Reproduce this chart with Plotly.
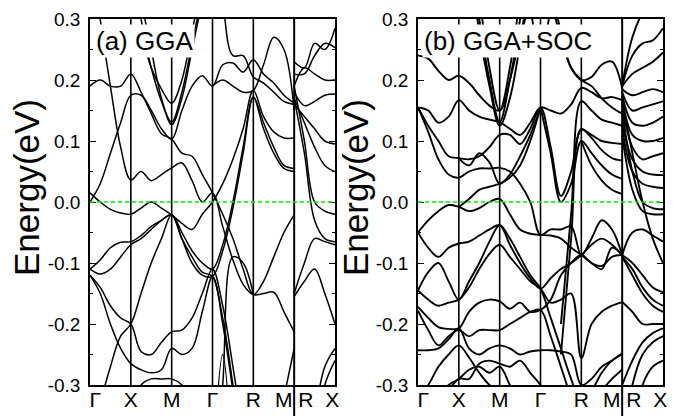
import plotly.graph_objects as go
from plotly.subplots import make_subplots

N = None

# k-path: Γ X M Γ R M | R X  (one unit per segment)
k_main = [0, 0.25, 0.5, 0.75, 1, 1.25, 1.5, 1.75, 2, 2.25, 2.5, 2.75,
          3, 3.25, 3.5, 3.75, 4, 4.25, 4.5, 4.75, 5]
k_rx = [5, 5.25, 5.5, 5.75, 6]

k_labels = ["Γ", "X", "M", "Γ", "R", "M R", "X"]
e_ticks = [-0.3, -0.2, -0.1, 0.0, 0.1, 0.2, 0.3]
e_tick_text = ["-0.3", "-0.2", "-0.1", "0.0", "0.1", "0.2", "0.3"]

# (a) GGA bands along Γ-X-M-Γ-R-M (eV)
gga_main = [
    [0.19, 0.20, 0.19, 0.19, 0.21, 0.18, 0.145, 0.112, 0.103, 0.08, 0.075, 0.045, 0.015, -0.02, -0.06, -0.11, -0.152, -0.13, -0.09, -0.05, -0.021],
    [0.45, 0.30, 0.19, 0.09, 0.036, 0.05, 0.035, 0.045, 0.056, 0.064, 0.035, 0.0, 0.015, -0.04, -0.095, -0.135, -0.152, -0.15, -0.148, -0.18, -0.213],
    [0.0, 0.03, 0.08, 0.13, 0.175, 0.175, 0.15, 0.12, 0.103, 0.15, 0.19, 0.207, 0.19, 0.225, 0.228, 0.213, 0.233, 0.21, 0.195, 0.175, 0.162],
    [0.015, 0.0, -0.012, -0.018, -0.02, -0.01, 0.0, -0.01, -0.021, -0.035, -0.045, -0.02, 0.0, 0.03, 0.07, 0.12, 0.183, 0.14, 0.115, 0.105, 0.105],
    [-0.11, -0.095, -0.075, -0.066, -0.065, -0.055, -0.04, -0.03, -0.021, -0.05, -0.08, -0.1, -0.11, -0.07, 0.0, 0.09, 0.172, 0.13, 0.09, 0.06, 0.055],
    [-0.11, -0.118, -0.11, -0.09, -0.07, -0.06, -0.045, -0.03, -0.021, -0.06, -0.1, -0.12, -0.122, -0.08, -0.01, 0.08, 0.172, 0.12, 0.08, 0.055, 0.05],
    [-0.12, -0.14, -0.17, -0.19, -0.2, -0.245, -0.25, -0.23, -0.213, -0.21, -0.19, -0.15, -0.11, -0.17, -0.27, -0.38, N, -0.5, -0.4, -0.32, -0.24],
    [-0.12, -0.15, -0.2, -0.24, -0.265, -0.275, -0.28, -0.275, -0.24, -0.25, -0.24, -0.18, -0.122, -0.19, -0.3, -0.42, N, N, N, N, N],
    [-0.4, -0.33, -0.27, -0.22, -0.2, -0.15, -0.1, -0.06, -0.021, -0.06, -0.09, -0.115, -0.122, -0.2, -0.31, N, N, N, N, N, N],
    [N, N, N, N, N, N, N, N, N, N, N, N, -0.5, -0.3, -0.09, -0.1, -0.152, N, N, N, N],
    [N, N, N, N, N, 0.28, 0.22, 0.185, 0.162, 0.2, 0.28, 0.36, N, N, N, N, N, N, N, N, N],
    [N, N, N, N, N, 0.3, 0.22, 0.165, 0.131, 0.18, 0.26, 0.34, N, N, N, N, N, N, N, N, N],
    [N, N, N, N, N, 0.33, 0.25, 0.17, 0.127, 0.17, 0.25, 0.33, N, N, N, N, N, N, N, N, N],
    [N, N, N, N, N, N, N, N, N, N, N, N, 0.45, 0.33, 0.24, 0.24, 0.205, 0.195, 0.18, 0.165, 0.16],
    [N, N, N, N, N, N, N, N, N, N, N, N, 0.19, 0.2, 0.19, 0.18, 0.183, 0.225, 0.27, 0.25, 0.15],
    [N, N, N, N, N, N, N, N, N, N, N, N, -0.45, -0.25, -0.45, N, N, N, N, N, N],
    [N, N, N, N, -0.35, -0.3, -0.29, -0.29, -0.29, -0.3, -0.33, N, N, N, N, N, N, N, N, N, N],
]

# (a) GGA bands along R-X
gga_rx = [
    [0.23, 0.22, 0.26, 0.25, 0.285],
    [0.21, 0.21, 0.24, 0.26, 0.253],
    [0.19, 0.22, 0.21, 0.2, 0.2],
    [0.18, 0.158, 0.165, 0.175, 0.177],
    [0.17, 0.13, 0.09, 0.06, 0.05],
    [0.16, 0.14, 0.12, 0.1, 0.095],
    [0.19, 0.1, 0.0, -0.015, -0.02],
    [0.17, 0.08, -0.03, -0.06, -0.065],
    [-0.155, -0.13, -0.11, -0.15, -0.2],
    [-0.15, -0.1, -0.06, -0.065, -0.07],
    [N, -0.5, -0.4, -0.3, -0.26],
    [N, -0.45, -0.35, -0.27, -0.24],
]

# (b) GGA+SOC bands along Γ-X-M-Γ-R-M
soc_main = [
    [0.24, 0.235, 0.215, 0.2, 0.207, 0.195, 0.175, 0.158, 0.15, 0.2, 0.27, 0.33, 0.4, 0.33, 0.27, 0.22, 0.2, 0.205, 0.225, 0.23, 0.187],
    [0.155, 0.15, 0.13, 0.14, 0.167, 0.15, 0.14, 0.135, 0.131, 0.12, 0.11, 0.13, 0.155, 0.15, 0.145, 0.16, 0.187, 0.18, 0.17, 0.172, 0.167],
    [0.155, 0.125, 0.1, 0.075, 0.072, 0.07, 0.075, 0.09, 0.11, 0.11, 0.095, 0.12, 0.155, 0.09, 0.01, 0.05, 0.12, 0.105, 0.085, 0.072, 0.068],
    [0.155, 0.115, 0.07, 0.045, 0.04, 0.05, 0.055, 0.055, 0.056, 0.05, 0.03, 0.0, -0.054, -0.045, -0.045, -0.04, -0.087, -0.06, -0.03, -0.045, -0.087],
    [-0.05, -0.03, -0.015, -0.005, -0.008, -0.015, -0.01, 0.0, 0.005, -0.02, -0.045, -0.052, -0.054, -0.055, -0.06, -0.075, -0.087, -0.1, -0.11, -0.075, -0.087],
    [-0.05, -0.075, -0.09, -0.075, -0.068, -0.065, -0.055, -0.045, -0.038, -0.07, -0.1, -0.125, -0.142, -0.125, -0.11, -0.1, -0.087, -0.07, -0.06, -0.07, -0.087],
    [-0.145, -0.115, -0.1, -0.13, -0.16, -0.13, -0.1, -0.065, -0.038, -0.06, -0.09, -0.12, -0.142, -0.19, -0.24, -0.29, -0.33, -0.31, -0.28, -0.26, -0.25],
    [-0.145, -0.16, -0.17, -0.165, -0.16, -0.14, -0.11, -0.085, -0.07, -0.09, -0.11, -0.13, -0.142, -0.165, -0.16, -0.15, -0.256, -0.2, -0.18, -0.17, -0.164],
    [-0.172, -0.19, -0.205, -0.208, -0.207, -0.18, -0.165, -0.16, -0.163, -0.175, -0.165, -0.18, -0.177, -0.16, -0.12, -0.1, -0.087, -0.1, -0.105, -0.09, -0.087],
    [-0.178, -0.21, -0.235, -0.22, -0.21, -0.22, -0.21, -0.21, -0.21, -0.2, -0.19, -0.18, -0.177, -0.22, -0.27, -0.32, -0.36, -0.34, -0.31, -0.29, -0.275],
    [-0.243, -0.243, -0.24, -0.225, -0.207, -0.24, -0.25, -0.24, -0.235, -0.24, -0.25, -0.245, -0.243, -0.243, -0.245, -0.25, -0.3, -0.29, -0.27, -0.26, -0.248],
    [-0.4, -0.35, -0.32, -0.3, -0.29, -0.275, -0.27, -0.28, -0.27, -0.3, -0.33, -0.35, -0.4, N, N, N, N, N, N, N, N],
    [-0.45, -0.4, -0.35, -0.31, -0.29, -0.29, -0.265, -0.26, -0.265, -0.27, -0.26, -0.28, -0.3, -0.33, N, N, N, N, N, N, N],
    [N, N, N, N, N, 0.5, 0.34, 0.22, 0.15, 0.22, 0.34, 0.5, N, N, N, N, N, N, N, N, N],
    [N, N, N, N, N, 0.45, 0.3, 0.2, 0.131, 0.2, 0.3, 0.45, N, N, N, N, N, N, N, N, N],
    [N, N, N, N, N, 0.4, 0.28, 0.19, 0.125, 0.17, 0.26, 0.38, N, N, N, N, N, N, N, N, N],
    [N, N, N, N, N, N, N, N, N, N, 0.45, 0.32, 0.24, 0.32, 0.45, N, N, N, N, N, N],
    [N, N, N, N, N, N, N, N, N, N, N, N, 0.45, 0.35, 0.28, 0.22, 0.2, 0.19, 0.17, 0.155, 0.145],
    [N, N, N, N, N, N, N, N, N, N, N, N, 0.155, 0.08, 0.0, 0.03, 0.1, 0.08, 0.06, 0.045, 0.038],
    [N, N, N, N, N, N, N, N, N, N, N, N, N, N, -0.2, -0.02, 0.165, 0.15, 0.135, 0.13, 0.125],
    [N, N, N, N, N, N, N, N, N, N, N, N, N, N, -0.25, -0.06, 0.118, 0.11, 0.1, 0.097, 0.095],
    [N, N, N, N, N, N, N, N, N, N, N, N, N, N, N, N, 0.1, 0.06, 0.035, 0.02, 0.013],
    [N, N, N, N, -0.008, 0.005, 0.02, 0.025, 0.03, 0.04, 0.06, 0.1, 0.155, N, N, N, N, N, N, N, N],
    [N, N, N, N, 0.072, 0.06, 0.08, 0.065, 0.03, 0.045, 0.075, 0.11, 0.155, N, N, N, N, N, N, N, N],
    [-0.32, -0.3, -0.27, -0.25, -0.235, -0.255, -0.28, -0.3, -0.31, N, N, N, N, N, N, N, N, N, N, N, N],
]

# (b) GGA+SOC bands along R-X
soc_rx = [
    [0.19, 0.27, 0.31, 0.33, 0.35],
    [0.19, 0.24, 0.26, 0.265, 0.285],
    [0.19, 0.21, 0.22, 0.23, 0.245],
    [0.185, 0.175, 0.18, 0.185, 0.18],
    [0.18, 0.15, 0.155, 0.16, 0.165],
    [0.175, 0.13, 0.125, 0.13, 0.14],
    [0.17, 0.11, 0.1, 0.1, 0.105],
    [0.165, 0.08, 0.0, -0.06, -0.1],
    [0.16, 0.09, 0.07, 0.075, 0.08],
    [0.13, 0.07, 0.05, 0.045, 0.044],
    [0.12, 0.05, 0.03, 0.025, 0.023],
    [0.15, 0.05, 0.0, -0.01, -0.012],
    [0.11, 0.02, -0.015, -0.02, -0.02],
    [-0.087, -0.05, -0.045, -0.055, -0.065],
    [-0.087, -0.1, -0.12, -0.14, -0.148],
    [-0.09, -0.11, -0.14, -0.16, -0.17],
    [-0.09, -0.12, -0.15, -0.17, -0.18],
    [-0.164, -0.18, -0.2, -0.2, -0.2],
    [-0.3, -0.26, -0.23, -0.215, -0.207],
    [-0.4, -0.3, -0.25, -0.23, -0.22],
    [-0.45, -0.38, -0.3, -0.27, -0.26],
]

FONT = "Liberation Sans, Arial, sans-serif"
# the page body keeps an 8px margin, so the figure is laid out 8px short
W, H = 672, 408
OFF = 8


def px(x):
    return (x - OFF) / W


def py(y):
    return 1 - (y - OFF) / H


fig = make_subplots(rows=1, cols=2)

panels = [
    (1, gga_main, gga_rx, 1.5),
    (2, soc_main, soc_rx, 1.9),
]
for col, main, rx, lw in panels:
    for band in main:
        fig.add_trace(go.Scatter(x=k_main, y=band, mode="lines", line_shape="spline",
                                 line=dict(color="black", width=lw), hoverinfo="skip",
                                 showlegend=False), row=1, col=col)
    for band in rx:
        fig.add_trace(go.Scatter(x=k_rx, y=band, mode="lines", line_shape="spline",
                                 line=dict(color="black", width=lw), hoverinfo="skip",
                                 showlegend=False), row=1, col=col)

y_bot = py(385)
y_top = py(19)
domains = [(px(90), px(335)), (px(418), px(663))]

for col in (1, 2):
    fig.update_xaxes(domain=list(domains[col - 1]), range=[0, 6], showgrid=False,
                     zeroline=False, showline=True, mirror=True, linecolor="black",
                     linewidth=1.5, ticks="", tickvals=[0.13, 1, 2, 3, 4, 5, 5.93],
                     ticktext=k_labels, automargin=False, ticklabelstandoff=-5,
                     tickfont=dict(size=21, color="black", family=FONT),
                     row=1, col=col)
    fig.update_yaxes(domain=[y_bot, y_top], range=[-0.3, 0.3], showgrid=False,
                     zeroline=False, showline=True, mirror="ticks", linecolor="black",
                     linewidth=1.5, ticks="inside", ticklen=6, tickwidth=1.2,
                     tickcolor="black", tickvals=e_ticks, ticktext=e_tick_text,
                     ticklabelstandoff=4, automargin=False,
                     minor=dict(dtick=0.05, ticks="inside", ticklen=3, tickcolor="black"),
                     tickfont=dict(size=19, color="black", family=FONT),
                     row=1, col=col)

shapes = []
for xref, yref in (("x", "y"), ("x2", "y2")):
    for kx in (1, 2, 3, 4):
        shapes.append(dict(type="line", xref=xref, yref=yref + " domain", x0=kx, x1=kx,
                           y0=0, y1=1, line=dict(color="black", width=1.6)))
    shapes.append(dict(type="line", xref=xref, yref="paper", x0=5, x1=5, y0=0, y1=y_top,
                       line=dict(color="black", width=2)))
    shapes.append(dict(type="line", xref=xref + " domain", yref=yref, x0=0, x1=1, y0=0, y1=0,
                       line=dict(color="#00ee00", width=1.6, dash="4px,3px")))

annotations = [
    dict(text="(a) GGA", x=px(94), y=py(41), xref="paper", yref="paper",
         xanchor="left", yanchor="middle", showarrow=False, bgcolor="white",
         borderpad=1, font=dict(size=26, color="black", family=FONT)),
    dict(text="(b) GGA+SOC", x=px(422), y=py(41), xref="paper", yref="paper",
         xanchor="left", yanchor="middle", showarrow=False, bgcolor="white",
         borderpad=1, font=dict(size=26, color="black", family=FONT)),
    dict(text="Energy(eV)", x=px(26), y=py(188), xref="paper", yref="paper",
         xanchor="center", yanchor="middle",
         textangle=-90, showarrow=False, font=dict(size=35, color="black", family=FONT)),
    dict(text="Energy(eV)", x=px(355), y=py(188), xref="paper", yref="paper",
         xanchor="center", yanchor="middle",
         textangle=-90, showarrow=False, font=dict(size=35, color="black", family=FONT)),
]

fig.update_layout(width=W, height=H, margin=dict(l=0, r=0, t=0, b=0),
                  paper_bgcolor="white", plot_bgcolor="white",
                  shapes=shapes, annotations=annotations,
                  font=dict(family=FONT, color="black"))

fig.write_html("out.html")
